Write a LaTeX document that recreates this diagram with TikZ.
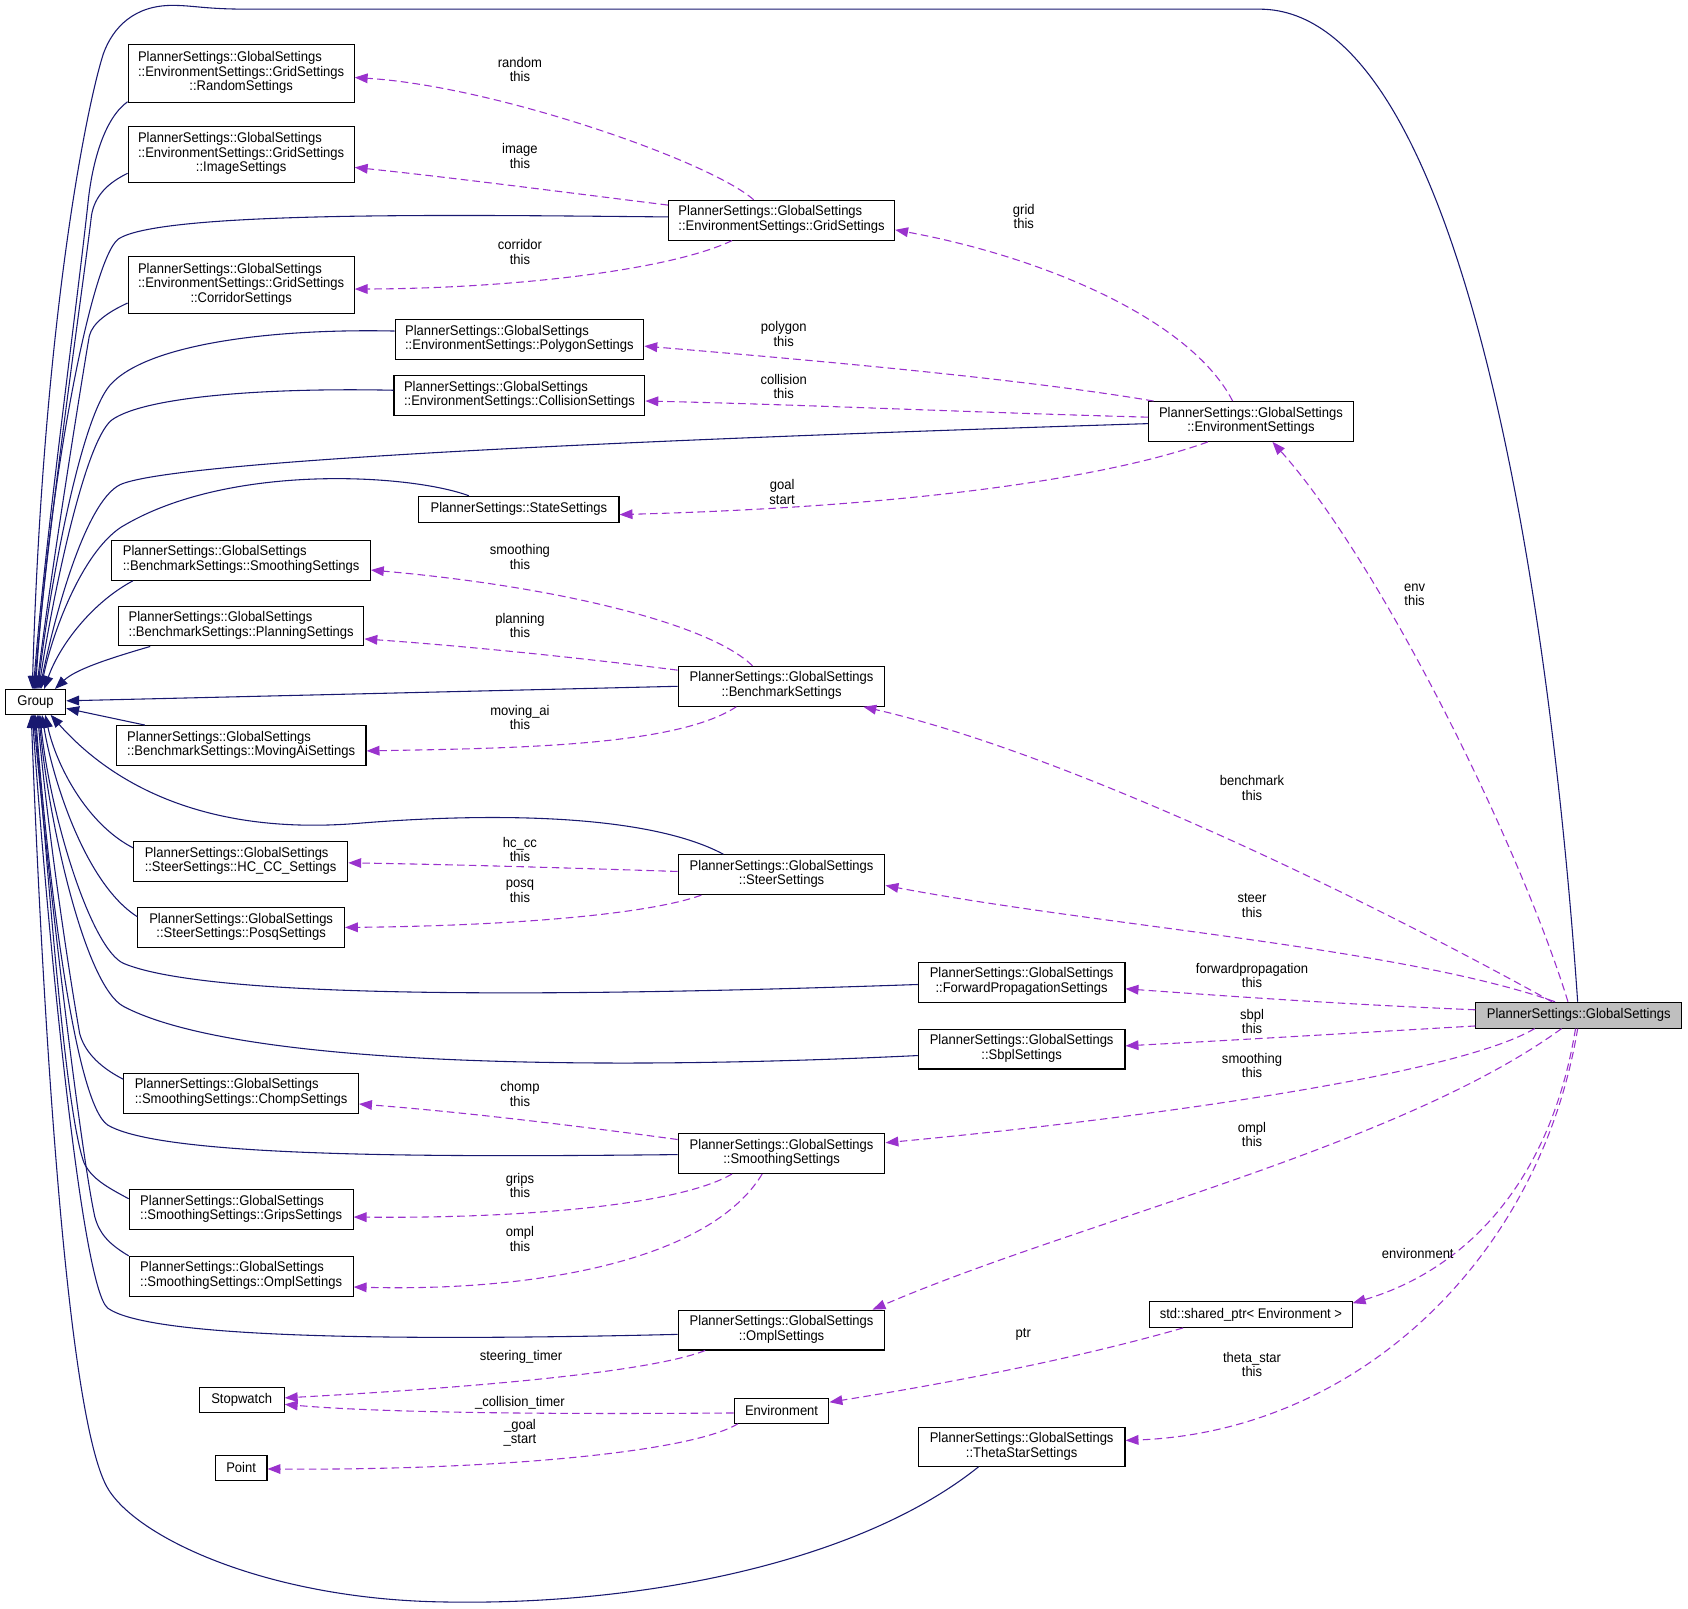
\documentclass[tikz,border=0pt]{standalone}
\usepackage{fontspec}
\setmainfont{Liberation Sans}[FakeStretch=0.93]
\usetikzlibrary{arrows.meta}
\definecolor{navy}{HTML}{191970}
\definecolor{purp}{HTML}{9A32CD}
\definecolor{gfill}{HTML}{BFBFBF}
\newcommand{\twol}[2]{\begin{tabular}{@{}l@{}}#1\\\multicolumn{1}{@{}c@{}}{#2}\end{tabular}}
\newcommand{\threel}[3]{\begin{tabular}{@{}l@{}}#1\\#2\\\multicolumn{1}{@{}c@{}}{#3}\end{tabular}}
\newcommand{\PGS}{PlannerSettings::GlobalSettings}
\begin{document}
\begin{tikzpicture}[x=1pt,y=-1pt,
  every node/.style={font=\fontsize{13}{13.5}\selectfont},
  cbox/.style={draw=black,line width=1pt,rectangle,inner sep=0pt,fill=white},
  nav/.style={draw=navy,line width=1pt,-{Triangle[length=12pt,width=9pt]}},
  dep/.style={draw=purp,line width=1pt,dash pattern=on 7pt off 4pt,-{Triangle[length=12pt,width=9pt]}},
  lbl/.style={align=center,inner sep=0pt}]
\useasboundingbox (0,0) rectangle (1568,1494);

% nodes
\node[cbox,minimum width=56,minimum height=23] (grp) at (33,652) {Group};
\node[cbox,minimum width=210,minimum height=54] (rnd) at (224,68) {\threel{\PGS}{::EnvironmentSettings::GridSettings}{::RandomSettings}};
\node[cbox,minimum width=210,minimum height=52] (img) at (224,143.5) {\threel{\PGS}{::EnvironmentSettings::GridSettings}{::ImageSettings}};
\node[cbox,minimum width=210,minimum height=37] (grid) at (726,204.5) {\twol{\PGS}{::EnvironmentSettings::GridSettings}};
\node[cbox,minimum width=210,minimum height=53] (corr) at (224,264.5) {\threel{\PGS}{::EnvironmentSettings::GridSettings}{::CorridorSettings}};
\node[cbox,minimum width=231,minimum height=37] (poly) at (482.5,315.5) {\twol{\PGS}{::EnvironmentSettings::PolygonSettings}};
\node[cbox,minimum width=233,minimum height=37] (coll) at (482.5,367.5) {\twol{\PGS}{::EnvironmentSettings::CollisionSettings}};
\node[cbox,minimum width=190,minimum height=37] (envs) at (1162,391.5) {\twol{\PGS}{::EnvironmentSettings}};
\node[cbox,minimum width=186,minimum height=24] (state) at (482,473) {PlannerSettings::StateSettings};
\node[cbox,minimum width=240,minimum height=37] (bms) at (224,520.5) {\twol{\PGS}{::BenchmarkSettings::SmoothingSettings}};
\node[cbox,minimum width=228,minimum height=37] (bmp) at (224,581.5) {\twol{\PGS}{::BenchmarkSettings::PlanningSettings}};
\node[cbox,minimum width=192,minimum height=37] (bench) at (726,637.5) {\twol{\PGS}{::BenchmarkSettings}};
\node[cbox,minimum width=232,minimum height=37] (bma) at (224,692.5) {\twol{\PGS}{::BenchmarkSettings::MovingAiSettings}};
\node[cbox,minimum width=199,minimum height=37] (hc) at (223.5,800.5) {\twol{\PGS}{::SteerSettings::HC\_CC\_Settings}};
\node[cbox,minimum width=192,minimum height=37] (steer) at (726,812.5) {\twol{\PGS}{::SteerSettings}};
\node[cbox,minimum width=192,minimum height=37] (posq) at (224,861.5) {\twol{\PGS}{::SteerSettings::PosqSettings}};
\node[cbox,minimum width=192,minimum height=37] (fp) at (949,912.5) {\twol{\PGS}{::ForwardPropagationSettings}};
\node[cbox,fill=gfill,minimum width=191,minimum height=24] (glob) at (1466.5,943) {\PGS};
\node[cbox,minimum width=192,minimum height=37] (sbpl) at (949,974.5) {\twol{\PGS}{::SbplSettings}};
\node[cbox,minimum width=218,minimum height=37] (chomp) at (224,1015.5) {\twol{\PGS}{::SmoothingSettings::ChompSettings}};
\node[cbox,minimum width=192,minimum height=37] (smooth) at (726,1071.5) {\twol{\PGS}{::SmoothingSettings}};
\node[cbox,minimum width=208,minimum height=37] (grips) at (224,1123.5) {\twol{\PGS}{::SmoothingSettings::GripsSettings}};
\node[cbox,minimum width=208,minimum height=37] (omps) at (224,1185.5) {\twol{\PGS}{::SmoothingSettings::OmplSettings}};
\node[cbox,minimum width=188,minimum height=24] (sp) at (1162,1221) {std::shared\_ptr< Environment >};
\node[cbox,minimum width=192,minimum height=37] (omplg) at (726,1235.5) {\twol{\PGS}{::OmplSettings}};
\node[cbox,minimum width=79,minimum height=23] (sw) at (224.5,1300.5) {Stopwatch};
\node[cbox,minimum width=88,minimum height=23] (envn) at (726,1310.5) {Environment};
\node[cbox,minimum width=192,minimum height=36] (theta) at (949,1344) {\twol{\PGS}{::ThetaStarSettings}};
\node[cbox,minimum width=48,minimum height=23] (pt) at (224,1363.5) {Point};

% navy edges to Group
\draw[nav] ([xshift=-1pt]glob.north) .. controls (1440,560) and (1360,8.5) .. (1170,8.5) -- (230,8.5) .. controls (190,8.5) and (180,5) .. (160,5) .. controls (125,5) and (105,25) .. (96,50) .. controls (80,100) and (40,300) .. ([xshift=-3pt]grp.north);
\draw[nav] ([yshift=1pt]rnd.south west) .. controls (97,110) and (86,150) .. (82,186) .. controls (72,280) and (42,500) .. ([xshift=-2pt]grp.north);
\draw[nav] ([yshift=9pt]img.south west) .. controls (100,170) and (88,182) .. (85,200) .. controls (78,260) and (43,500) .. ([xshift=-1pt]grp.north);
\draw[nav] ([yshift=3pt]grid.west) .. controls (450,200) and (150,195) .. (110,222) .. controls (85,240) and (45,450) .. (grp.north);
\draw[nav] ([yshift=10pt]corr.south west) .. controls (100,290) and (86,300) .. (83,312) .. controls (78,340) and (46,540) .. ([xshift=1pt]grp.north);
\draw[nav] ([yshift=8pt]poly.west) .. controls (250,305) and (135,320) .. (102,358) .. controls (75,390) and (47,540) .. ([xshift=2pt]grp.north);
\draw[nav] ([yshift=5pt]coll.west) .. controls (250,360) and (135,368) .. (104,390) .. controls (78,410) and (48,560) .. ([xshift=3pt]grp.north);
\draw[nav] ([yshift=-2pt]envs.west) .. controls (700,405) and (170,425) .. (112,450) .. controls (78,466) and (49,580) .. ([xshift=4pt]grp.north);
\draw[nav] ([xshift=47pt]state.north west) .. controls (380,440) and (210,430) .. (112,490) .. controls (75,515) and (48,590) .. ([xshift=5pt]grp.north);
\draw[nav] ([xshift=20pt]bms.south west) .. controls (85,560) and (55,600) .. ([xshift=8pt]grp.north);
\draw[nav] ([xshift=30pt]bmp.south west) .. controls (100,612) and (70,622) .. ([xshift=18pt]grp.north);
\draw[nav] (bench.west) -- ([yshift=1pt]grp.east);
\draw[nav] ([xshift=27pt]bma.north west) -- ([yshift=-6pt]grp.east);
\draw[nav] ([xshift=-54pt]steer.north) .. controls (600,755) and (450,755) .. (330,765) .. controls (200,775) and (110,735) .. ([xshift=14pt]grp.south);
\draw[nav] ([yshift=13pt]hc.west) .. controls (80,765) and (52,710) .. ([xshift=9pt]grp.south);
\draw[nav] ([yshift=10pt]posq.west) .. controls (78,820) and (48,720) .. ([xshift=6pt]grp.south);
\draw[nav] ([yshift=-2pt]fp.west) .. controls (550,925) and (200,930) .. (115,895) .. controls (85,882) and (47,760) .. ([xshift=4pt]grp.south);
\draw[nav] ([yshift=-6pt]sbpl.west) .. controls (550,995) and (220,990) .. (115,935) .. controls (80,917) and (46,770) .. ([xshift=3pt]grp.south);
\draw[nav] ([yshift=-6pt]chomp.north west) .. controls (90,990) and (78,975) .. (74,960) .. controls (60,880) and (42,750) .. ([xshift=2pt]grp.south);
\draw[nav] ([yshift=-1pt]smooth.west) .. controls (400,1075) and (150,1075) .. (100,1045) .. controls (70,1025) and (45,820) .. (grp.south);
\draw[nav] ([yshift=-9pt]grips.north west) .. controls (100,1103) and (85,1095) .. (78,1080) .. controls (60,1030) and (44,800) .. ([xshift=-1pt]grp.south);
\draw[nav] (omps.north west) .. controls (100,1155) and (92,1145) .. (88,1130) .. controls (75,1070) and (45,820) .. ([xshift=-2pt]grp.south);
\draw[nav] ([yshift=-4pt]omplg.west) .. controls (400,1245) and (140,1245) .. (100,1215) .. controls (75,1195) and (43,850) .. ([xshift=-3pt]grp.south);
\draw[nav] ([xshift=-40pt]theta.south) .. controls (800,1450) and (600,1492) .. (409,1488) .. controls (250,1485) and (130,1430) .. (101,1384) .. controls (60,1320) and (38,900) .. ([xshift=-4pt]grp.south);

% purple dashed edges
\draw[dep] ([xshift=-26pt]grid.north) .. controls (660,150) and (460,80) .. ([yshift=-4pt]rnd.east);
\draw[dep] ([yshift=14pt]grid.west) .. controls (520,178) and (420,165) .. ([yshift=-12pt]img.east);
\draw[dep] ([xshift=-46pt]grid.south) .. controls (620,252) and (470,268) .. ([yshift=-4pt]corr.east);
\draw[dep] ([xshift=-17pt]envs.north) .. controls (1105,295) and (965,238) .. ([yshift=-9pt]grid.east);
\draw[dep] ([xshift=5pt]envs.north west) .. controls (950,352) and (760,335) .. ([yshift=-6pt]poly.east);
\draw[dep] ([yshift=4pt]envs.west) .. controls (900,383) and (750,376) .. ([yshift=-5pt]coll.east);
\draw[dep] ([xshift=-40pt]envs.south) .. controls (1040,440) and (870,470) .. ([yshift=-5pt]state.east);
\draw[dep] ([xshift=-10pt]glob.north) .. controls (1410,780) and (1280,520) .. ([xshift=20pt]envs.south);
\draw[dep] ([xshift=-27pt]bench.north) .. controls (660,580) and (520,545) .. ([yshift=-9pt]bms.east);
\draw[dep] ([yshift=15pt]bench.west) .. controls (530,610) and (430,600) .. ([yshift=-12pt]bmp.east);
\draw[dep] ([xshift=-42pt]bench.south) .. controls (630,692) and (490,695) .. ([yshift=-5pt]bma.east);
\draw[dep] ([xshift=-25pt]glob.north) .. controls (1260,830) and (990,700) .. ([xshift=76pt]bench.south);
\draw[dep] ([yshift=3pt]steer.west) .. controls (520,806) and (420,803) .. ([yshift=-1pt]hc.east);
\draw[dep] ([xshift=22pt]steer.south west) .. controls (600,850) and (470,860) .. (posq.east);
\draw[dep] ([xshift=-22pt]glob.north) .. controls (1300,880) and (1020,860) .. ([yshift=-10pt]steer.east);
\draw[dep] ([yshift=5pt]glob.west) .. controls (1250,933) and (1150,926) .. ([yshift=-6pt]fp.east);
\draw[dep] ([yshift=-10pt]glob.west) .. controls (1250,960) and (1150,966) .. ([yshift=3pt]sbpl.east);
\draw[dep] ([xshift=-41pt]glob.south) .. controls (1350,1000) and (1050,1040) .. ([yshift=10pt]smooth.east);
\draw[dep] ([yshift=13pt]smooth.west) .. controls (530,1045) and (430,1033) .. ([yshift=-10pt]chomp.east);
\draw[dep] ([xshift=-46pt]smooth.south) .. controls (630,1120) and (480,1132) .. ([yshift=-7pt]grips.east);
\draw[dep] ([xshift=-18pt]smooth.south) .. controls (660,1170) and (500,1200) .. ([yshift=-10pt]omps.east);
\draw[dep] ([xshift=-16pt]glob.south) .. controls (1300,1065) and (1000,1135) .. ([xshift=-12pt]omplg.north east);
\draw[dep] ([xshift=-3pt]glob.south) .. controls (1440,1100) and (1360,1180) .. ([yshift=-2pt]sp.north east);
\draw[dep] ([xshift=-1pt]glob.south) .. controls (1430,1170) and (1260,1330) .. ([yshift=6pt]theta.east);
\draw[dep] ([xshift=-63pt]sp.south) .. controls (1000,1262) and (880,1285) .. ([yshift=8pt]envn.east);
\draw[dep] ([xshift=-71pt]omplg.south) .. controls (600,1276) and (420,1290) .. ([yshift=2pt]sw.east);
\draw[dep] ([yshift=-2pt]envn.west) .. controls (500,1314) and (350,1312) .. ([yshift=-4pt]sw.east);
\draw[dep] ([xshift=4pt]envn.south west) .. controls (640,1350) and (450,1366) .. ([yshift=-1pt]pt.east);

% edge labels
\node[lbl] (la1) at (483,64.5) {random\\this};
\node[lbl] (la2) at (483,145) {image\\this};
\node[lbl] (la3) at (951,201) {grid\\this};
\node[lbl] (la4) at (483,234) {corridor\\this};
\node[lbl] (la5) at (728,310) {polygon\\this};
\node[lbl] (la6) at (728,359) {collision\\this};
\node[lbl] (la7) at (726.5,457) {goal\\start};
\node[lbl] (la8) at (483,517.5) {smoothing\\this};
\node[lbl] (la9) at (483,581) {planning\\this};
\node[lbl] (la10) at (1314,552.5) {env\\this};
\node[lbl] (la11) at (483,666.5) {moving\_ai\\this};
\node[lbl] (la12) at (1163,732) {benchmark\\this};
\node[lbl] (la13) at (483,789) {hc\_cc\\this};
\node[lbl] (la14) at (483,828) {posq\\this};
\node[lbl] (la15) at (1163,841) {steer\\this};
\node[lbl] (la16) at (1163,906) {forwardpropagation\\this};
\node[lbl] (la17) at (1163,949) {sbpl\\this};
\node[lbl] (la18) at (1163,989.7) {smoothing\\this};
\node[lbl] (la19) at (483,1016) {chomp\\this};
\node[lbl] (la20) at (1163,1054) {ompl\\this};
\node[lbl] (la21) at (483,1101) {grips\\this};
\node[lbl] (la22) at (483,1151) {ompl\\this};
\node[lbl] (la23) at (1317,1164) {environment};
\node[lbl] (la24) at (950.5,1239.5) {ptr};
\node[lbl] (la25) at (484,1260) {steering\_timer};
\node[lbl] (la26) at (1163,1267.5) {theta\_star\\this};
\node[lbl] (la27) at (483,1303) {\_collision\_timer};
\node[lbl] (la28) at (483,1331) {\_goal\\\_start};
\end{tikzpicture}
\end{document}
